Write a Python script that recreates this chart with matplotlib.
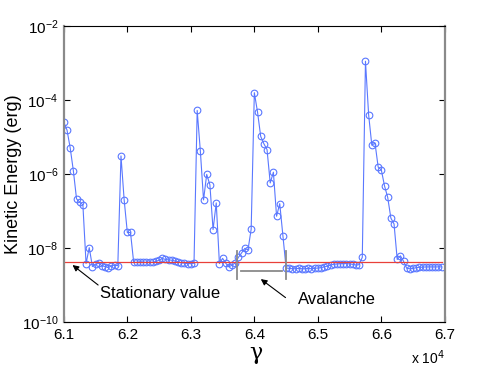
import matplotlib
matplotlib.use("Agg")
import matplotlib.pyplot as plt
from matplotlib.ticker import NullLocator, FixedLocator
import numpy as np

plt.rcParams['font.family'] = ['Liberation Sans', 'DejaVu Sans']

# sampling of gamma (every 50, from 61000)
gamma_start = 61000
gamma_step = 50

# log10 of kinetic energy
log_energy = [
    -4.60, -4.81, -5.29, -5.91, -6.67, -6.76, -6.83, -8.42, -7.99, -8.50,
    -8.44, -8.41, -8.48, -8.50, -8.53, -8.48, -8.46, -8.48, -5.51, -6.70,
    -7.58, -7.58, -8.39, -8.39, -8.37, -8.38, -8.39, -8.38, -8.39, -8.36,
    -8.33, -8.28, -8.31, -8.32, -8.33, -8.35, -8.37, -8.40, -8.41, -8.42,
    -8.42, -8.41, -4.28, -5.38, -6.70, -6.01, -6.29, -7.50, -6.78, -8.42,
    -8.28, -8.41, -8.51, -8.46, -8.40, -8.25, -8.13, -8.01, -8.05, -7.49,
    -3.80, -4.32, -4.98, -5.18, -5.34, -6.24, -5.95, -7.14, -6.80, -7.67,
    -8.54, -8.55, -8.56, -8.56, -8.55, -8.56, -8.56, -8.55, -8.56, -8.55,
    -8.54, -8.53, -8.51, -8.49, -8.46, -8.44, -8.43, -8.42, -8.42, -8.42,
    -8.43, -8.44, -8.46, -8.45, -8.25, -2.95, -4.40, -5.22, -5.16, -5.81,
    -5.89, -6.32, -6.63, -7.19, -7.35, -8.31, -8.21, -8.36, -8.55, -8.56,
    -8.55, -8.53, -8.52, -8.52, -8.51, -8.51, -8.51, -8.51, -8.51, -8.51,
]

stationary_value = 4.27e-9
avalanche_start = 63724
avalanche_end = 64496

gamma = gamma_start + gamma_step * np.arange(len(log_energy))
energy = 10.0 ** np.array(log_energy)

fig = plt.figure(figsize=(4.91, 3.68), dpi=100)
ax = fig.add_axes([0.130, 0.125, 0.776, 0.804])

ax.plot(gamma, energy, '-o', color='#5a78ff', lw=0.8, ms=4.8,
        mfc='none', mec='#5a78ff', mew=0.8)
ax.plot([gamma[0], gamma[-1]], [stationary_value, stationary_value],
        color='#e8403a', lw=0.9)

# avalanche bracket
grey = '#8a8a8a'
ax.plot([avalanche_start, avalanche_start], [8.5e-9, 1.5e-9], color=grey, lw=1.3)
ax.plot([avalanche_end, avalanche_end], [8.5e-9, 1.5e-9], color=grey, lw=1.3)
ax.plot([avalanche_start + 60, avalanche_end - 60], [2.45e-9, 2.45e-9], color=grey, lw=1.3)

ax.set_yscale('log')
ax.set_xlim(61000, 67000)
ax.set_ylim(1e-10, 1e-2)
ax.yaxis.set_major_locator(FixedLocator([1e-10, 1e-8, 1e-6, 1e-4, 1e-2]))
ax.yaxis.set_minor_locator(NullLocator())
ax.set_xticks([61000, 62000, 63000, 64000, 65000, 66000, 67000])
ax.set_xticklabels(['6.1', '6.2', '6.3', '6.4', '6.5', '6.6', '6.7'])
ax.tick_params(direction='in', top=True, right=True, length=4, width=0.8,
               labelsize=11, pad=4)

for s in ['left', 'right']:
    ax.spines[s].set_color('#8a8a8a')
    ax.spines[s].set_linewidth(1.6)
for s in ['top', 'bottom']:
    ax.spines[s].set_linewidth(0.8)

ax.set_ylabel('Kinetic Energy (erg)', fontsize=13)
ax.yaxis.set_label_coords(-0.11, 0.5)
fig.text(0.522, 0.040, 'γ', fontsize=16, ha='center', va='center',
         family=['DejaVu Serif'])
fig.text(0.906, 0.027, r'x 10$^4$', fontsize=10, ha='right', va='center')

arrow = dict(arrowstyle='-|>', color='k', lw=0.8, mutation_scale=9,
             shrinkA=0, shrinkB=0)
ax.annotate('', xy=(61137, 10 ** -8.46), xytext=(61540, 10 ** -9.0),
            arrowprops=arrow)
ax.text(61570, 10 ** -9.22, 'Stationary value', fontsize=12, ha='left', va='center')
ax.annotate('', xy=(64102, 10 ** -8.84), xytext=(64491, 10 ** -9.34),
            arrowprops=arrow)
ax.text(64680, 10 ** -9.39, 'Avalanche', fontsize=12, ha='left', va='center')

fig.savefig('out.png', dpi=100)
